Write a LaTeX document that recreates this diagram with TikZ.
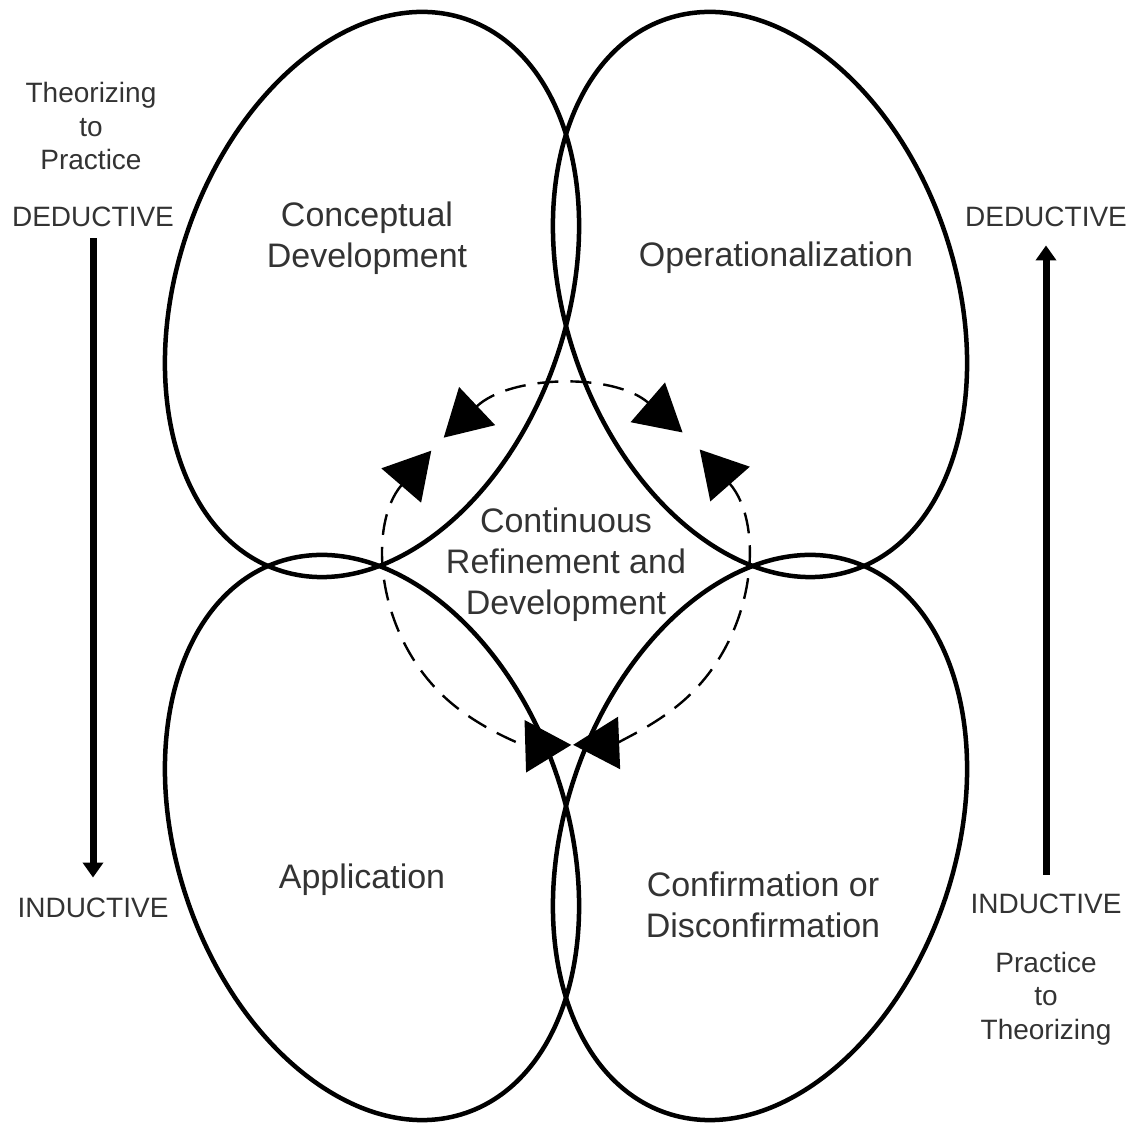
\documentclass[tikz,border=0pt]{standalone}
\usepackage{fontspec}
\setmainfont{Liberation Sans}
\usetikzlibrary{shapes.geometric, arrows.meta}

\begin{document}
\begin{tikzpicture}[x=1pt, y=1pt,
		petal/.style={draw, ellipse, line width=4.5pt, minimum width=582pt, minimum height=390pt, inner sep=0pt},
		stage/.style={align=center, text=black!80, font=\fontsize{34}{41}\selectfont},
		side/.style={align=center, text=black!80, font=\fontsize{28}{33.5}\selectfont},
		cycleline/.style={line width=2.4pt, dash pattern=on 21pt off 12pt},
		cycletip/.style={{Triangle[length=46pt, width=52pt]}-{Triangle[length=46pt, width=52pt]}},
		sidearrow/.style={line width=7pt, -{Triangle[length=15pt, width=20pt]}}]
		\useasboundingbox (0, 0) rectangle (1141, 1127);
		% the four stages
		\node (concept)at (372, 832.5)[petal, rotate=71.2]  {};
		\node (operation)at (760, 832.5)[petal, rotate=-71.2]  {};
		\node (application)at (372, 289.5)[petal, rotate=-71.2]  {};
		\node (confirmation)at (760, 289.5)[petal, rotate=71.2]  {};
		\node (concepttext)at (367, 889)[stage]  {Conceptual\\Development};
		\node (operationtext)at (776, 869)[stage]  {Operationalization};
		\node (applicationtext)at (362, 247)[stage]  {Application};
		\node (confirmationtext)at (763, 222)[stage]  {Confirmation or\\Disconfirmation};
		\node (refinement)at (566, 562)[stage]  {Continuous\\Refinement and\\Development};
		% dashed cycle
		\coordinate (ctr)at (566, 560);
		\coordinate (tl)at ([shift={(133.4:178)}]ctr);
		\coordinate (rt)at ([shift={(41.3:178)}]ctr);
		\coordinate (lt)at ([shift={(139.2:178)}]ctr);
		\draw [cycleline, cycletip](tl) arc[start angle=133.4, end angle=49.1, radius=178];
		\draw [cycleline, cycletip](rt) arc[start angle=41.3, end angle=-87.7, radius=178];
		\draw [cycleline, cycletip](lt) arc[start angle=139.2, end angle=271.7, radius=178];
		% left side
		\node (ltheory)at (91, 1000.5)[side]  {Theorizing\\to\\Practice};
		\node (ldeduct)at (93, 910)[side]  {DEDUCTIVE};
		\node (linduct)at (93, 219)[side]  {INDUCTIVE};
		\draw [sidearrow, shorten <=8pt, shorten >=17pt](ldeduct.south) -- (linduct.north);
		% right side
		\node (rdeduct)at (1046, 910)[side]  {DEDUCTIVE};
		\node (rinduct)at (1046, 223)[side]  {INDUCTIVE};
		\node (rpractice)at (1046, 128.5)[side]  {Practice\\to\\Theorizing};
		\draw [sidearrow, shorten <=16pt, shorten >=15pt](rinduct.north) -- (rdeduct.south);
	\end{tikzpicture}
\end{document}
